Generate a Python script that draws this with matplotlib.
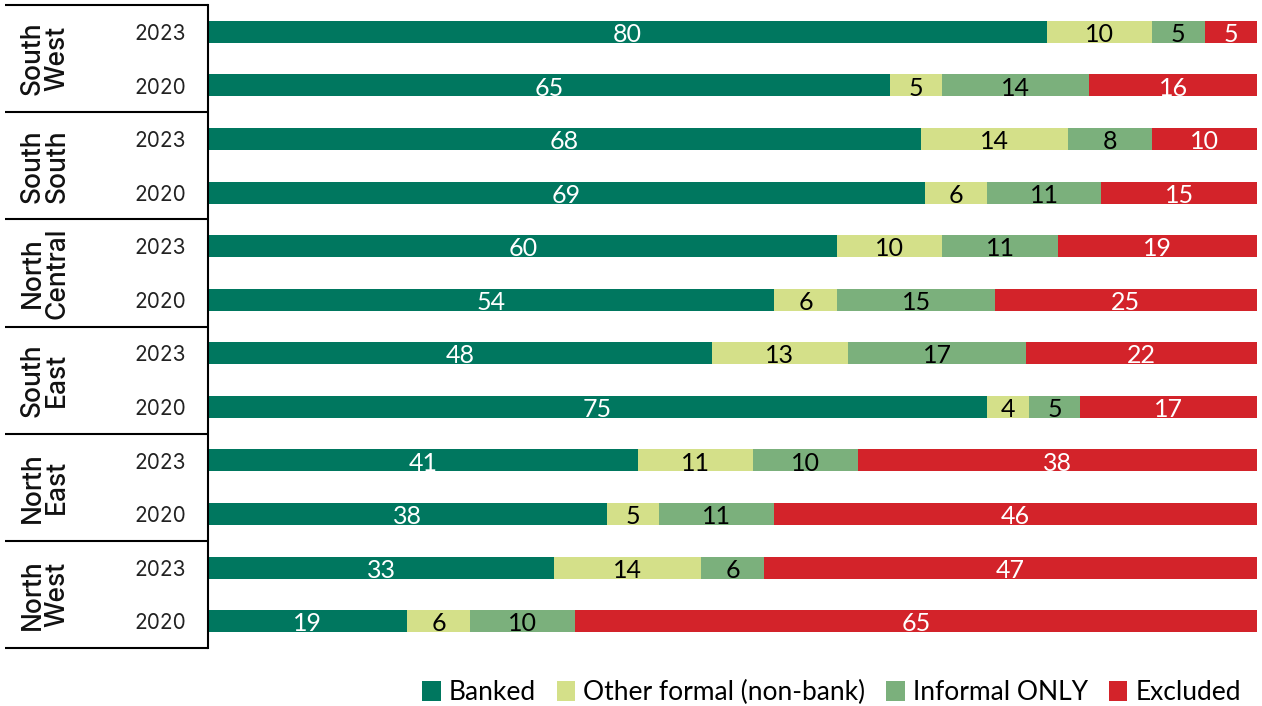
import numpy as np
import matplotlib.pyplot as plt
from matplotlib.transforms import blended_transform_factory

# shares of adults by access category, per zone and survey year
regions = ['South\nWest', 'South\nSouth', 'North\nCentral', 'South\nEast', 'North\nEast', 'North\nWest']
years = ['2023', '2020']
categories = ['Banked', 'Other formal (non-bank)', 'Informal ONLY', 'Excluded']

banked   = [80, 65, 68, 69, 60, 54, 48, 75, 41, 38, 33, 19]
other    = [10,  5, 14,  6, 10,  6, 13,  4, 11,  5, 14,  6]
informal = [ 5, 14,  8, 11, 11, 15, 17,  5, 10, 11,  6, 10]
excluded = [ 5, 16, 10, 15, 19, 25, 22, 17, 38, 46, 47, 65]

colors = ['#00775f', '#d4e089', '#7bb07c', '#d3232a']
text_colors = ['white', 'black', 'black', 'white']

label_font = ['Lato', 'Open Sans', 'DejaVu Sans']
axis_font = ['Inter', 'Liberation Sans', 'DejaVu Sans']

fig = plt.figure(figsize=(12.62, 7.06), dpi=100)
ax = fig.add_axes([208 / 1262, 1 - 648 / 706, 1049 / 1262, 643 / 706])

series = np.array([banked, other, informal, excluded], dtype=float)
totals = series.sum(axis=0)
shares = series / totals * 100  # stack to a full 100% bar
ypos = np.arange(len(banked))

left = np.zeros(len(banked))
for i, cat in enumerate(categories):
    ax.barh(ypos, shares[i], left=left, height=0.41, color=colors[i], label=cat)
    for y, l, w, v in zip(ypos, left, shares[i], series[i]):
        ax.text(l + w / 2, y + 0.05, f'{int(v)}', ha='center', va='center',
                color=text_colors[i], fontsize=18, family=label_font)
    left += shares[i]

ax.set_xlim(0, 100)
ax.set_ylim(11.5, -0.5)
ax.set_xticks([])
ax.set_yticks([])
for s in ['top', 'right', 'bottom']:
    ax.spines[s].set_visible(False)
ax.spines['left'].set_linewidth(1.5)

# year labels and zone labels in the left-hand table
trans = blended_transform_factory(ax.transAxes, ax.transData)
x_line = -203 / 1049
for y in ypos:
    ax.text(-22 / 1049, y + 0.04, years[y % 2], transform=trans, ha='right', va='center',
            fontsize=15, family=axis_font, color='#222222')
for g, name in enumerate(regions):
    ax.text(-163 / 1049, 2 * g + 0.5, name, transform=trans, rotation=90,
            ha='center', va='center', multialignment='center', linespacing=0.92,
            fontsize=19, fontweight='medium', family=axis_font, color='#111111')
for b in np.arange(-0.5, 12, 2):
    ax.plot([x_line, 0], [b, b], transform=trans, color='black', lw=1.5,
            clip_on=False, solid_capstyle='butt')

fig.legend(loc='lower right', bbox_to_anchor=(1254 / 1262, -12 / 706), ncol=4,
           frameon=False, prop={'family': label_font, 'size': 19}, borderpad=0,
           handlelength=0.7, handleheight=0.8, handletextpad=0.3,
           columnspacing=0.8)

fig.savefig('out.png', dpi=100)
